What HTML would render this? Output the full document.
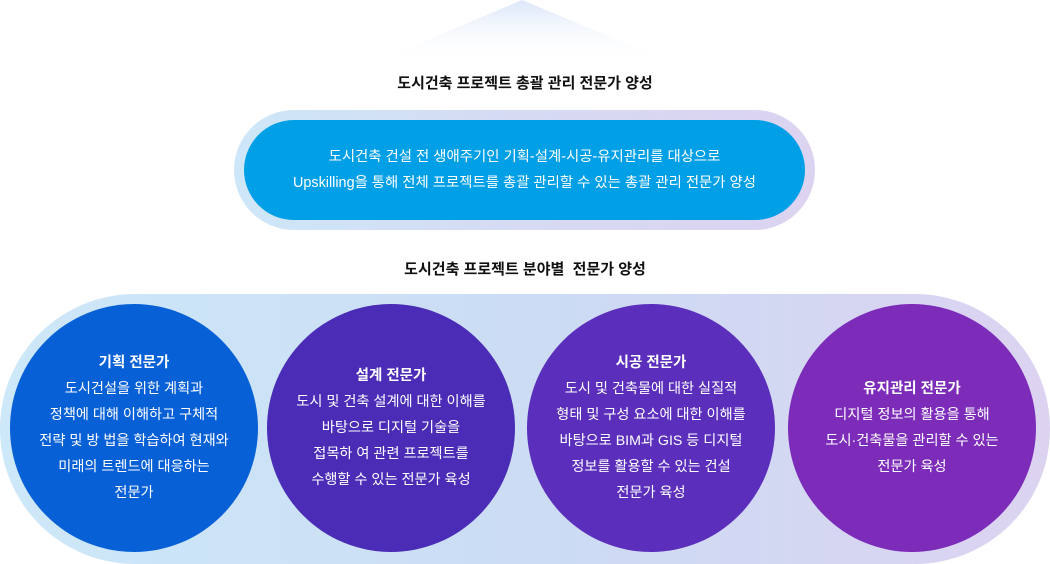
<!DOCTYPE html>
<html><head><meta charset="utf-8"><style>
body{margin:0;width:1050px;height:564px;background:#fff;position:relative;overflow:hidden;font-family:"Liberation Sans","Noto Sans CJK KR",sans-serif;}
.abs{position:absolute}
.t{text-align:center;font-weight:bold;font-size:15px;color:#111;}
.c{position:absolute;width:248px;height:248px;border-radius:50%;top:304px;display:flex;flex-direction:column;justify-content:center;align-items:center;color:#fff;font-size:14.2px;line-height:26px;text-align:center}
.c b{font-size:14.5px}
</style></head><body>
<svg class="abs" style="left:0;top:0" width="1050" height="70"><defs><linearGradient id="g" x1="0" y1="0" x2="0" y2="1"><stop offset="0" stop-color="#dbe6f8"/><stop offset="1" stop-color="#fff" stop-opacity="0"/></linearGradient></defs><polygon points="522,0 375,62 670,62" fill="url(#g)"/></svg>
<div class="abs t" style="left:0;top:72px;width:1050px">도시건축 프로젝트 총괄 관리 전문가 양성</div>
<div class="abs" style="left:234px;top:110px;width:581px;height:120px;border-radius:60px;background:linear-gradient(90deg,#cde7f8,#d6daf3,#dcd3f1)"></div>
<div class="abs" style="left:244px;top:120px;width:561px;height:100px;border-radius:50px;background:#019fe6;color:#fff;font-size:14.4px;line-height:26px;text-align:center;display:flex;flex-direction:column;justify-content:center">도시건축 건설 전 생애주기인 기획-설계-시공-유지관리를 대상으로<br>Upskilling을 통해 전체 프로젝트를 총괄 관리할 수 있는 총괄 관리 전문가 양성</div>
<div class="abs t" style="left:0;top:258px;width:1050px">도시건축 프로젝트 분야별 &nbsp;전문가 양성</div>
<div class="abs" style="left:0;top:294px;width:1050px;height:270px;border-radius:135px;background:linear-gradient(90deg,#cde8f9,#cbdcf4 50%,#dcd3f1)"></div>
<div class="c" style="left:10px;background:#0760d6"><b>기획 전문가</b>도시건설을 위한 계획과<br>정책에 대해 이해하고 구체적<br>전략 및 방 법을 학습하여 현재와<br>미래의 트렌드에 대응하는<br>전문가</div>
<div class="c" style="left:267px;background:#4a2cb6"><b>설계 전문가</b>도시 및 건축 설계에 대한 이해를<br>바탕으로 디지털 기술을<br>접목하 여 관련 프로젝트를<br>수행할 수 있는 전문가 육성</div>
<div class="c" style="left:527px;background:#5b2fbb"><b>시공 전문가</b>도시 및 건축물에 대한 실질적<br>형태 및 구성 요소에 대한 이해를<br>바탕으로 BIM과 GIS 등 디지털<br>정보를 활용할 수 있는 건설<br>전문가 육성</div>
<div class="c" style="left:788px;background:#7c2cb9"><b>유지관리 전문가</b>디지털 정보의 활용을 통해<br>도시·건축물을 관리할 수 있는<br>전문가 육성</div>
</body></html>
